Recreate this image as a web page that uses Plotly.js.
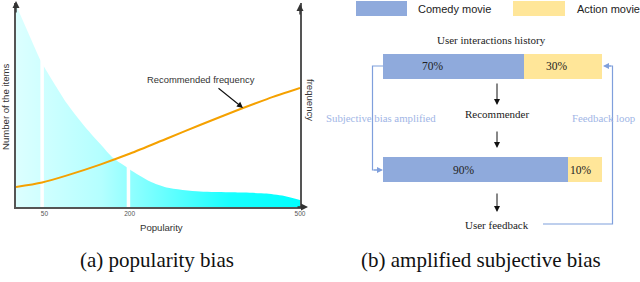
<!DOCTYPE html>
<html><head><meta charset="utf-8">
<script src="https://cdn.plot.ly/plotly-3.0.1.min.js"></script>
<style>html,body{margin:0;padding:0;background:#fff}#chart{width:640px;height:282px}</style>
</head><body><div id="chart"></div>
<script>
// ---- (a) popularity bias ----
const popularity = [0, 19, 43, 51, 89, 118, 148, 171, 195, 201, 236, 265, 324, 382, 441, 476, 500];
const itemCounts = [99, 87, 72, 68, 51, 40.5, 31, 24, 19.5, 18.3, 12.5, 9.6, 7.6, 7.2, 6.6, 5.2, 3.4];
const freqPopularity = [0, 46, 90, 148, 201, 266, 324, 394, 442, 500];
const recFrequency = [9.8, 12.0, 15.5, 20.8, 26.2, 33.6, 40.2, 47.9, 52.9, 58.3];
const gapPopularity = [46, 198];
const popTicks = [50, 200, 500];
const popTickLabels = ['50', '200', '500'];

// ---- (b) amplified subjective bias ----
const stages = ['User interactions history', 'Recommender output'];
const comedyShare = [70, 90];
const actionShare = [30, 10];
const comedyDrawn = [64.4, 84.5];   // bar lengths as drawn in the picture
const actionDrawn = [35.6, 15.5];
const genres = ['Comedy movie', 'Action movie'];

const BLUE = '#8faadc', YELLOW = '#ffe699', LOOP = '#7f9fdc', LOOPTXT = '#9fb6e6';
const X = px => px / 640, Y = py => 1 - py / 282;
const sans = 'Liberation Sans, Arial, sans-serif';
const serif = 'Liberation Serif, Times New Roman, serif';

function arrow(tx, ty, fx, fy, color, w, size) {
  return {xref:'paper', yref:'paper', x:X(tx), y:Y(ty), ax:fx - tx, ay:fy - ty,
          axref:'pixel', ayref:'pixel', text:'', showarrow:true, arrowhead:2,
          arrowsize:size, arrowwidth:w, arrowcolor:color};
}
function label(px, py, text, font, extra) {
  return Object.assign({xref:'paper', yref:'paper', x:X(px), y:Y(py), text:text,
          showarrow:false, xanchor:'center', yanchor:'middle', font:font}, extra || {});
}

const traces = [
  {x: popularity, y: itemCounts, xaxis:'x', yaxis:'y', type:'scatter', mode:'lines',
   line:{width:0, shape:'spline', smoothing:0.7}, fill:'tozeroy',
   fillgradient:{type:'horizontal', start:0, stop:500,
     colorscale:[[0,'#dcffff'],[0.3,'#b4ffff'],[0.5,'#70ffff'],[0.75,'#1affff'],[1,'#00ffff']]},
   hoverinfo:'skip'},
  {x: gapPopularity.flatMap(p => [p, p, null]), y: gapPopularity.flatMap(() => [0, 80, null]),
   xaxis:'x', yaxis:'y', type:'scatter', mode:'lines', line:{color:'#ffffff', width:3.5}, hoverinfo:'skip'},
  {x: freqPopularity, y: recFrequency, xaxis:'x', yaxis:'y', type:'scatter', mode:'lines',
   line:{color:'#f5a100', width:2, shape:'spline', smoothing:0.8}, hoverinfo:'skip'},
  {x: [0], y: [0], xaxis:'x', yaxis:'y3', type:'scatter', mode:'markers', marker:{opacity:0}, hoverinfo:'skip'},
  {type:'bar', orientation:'h', name: genres[0], x: comedyDrawn, y: stages, xaxis:'x2', yaxis:'y2',
   marker:{color: BLUE, line:{width:0}}, width:0.2415, hoverinfo:'skip'},
  {type:'bar', orientation:'h', name: genres[1], x: actionDrawn, y: stages, xaxis:'x2', yaxis:'y2',
   marker:{color: YELLOW, line:{width:0}}, width:0.2415, hoverinfo:'skip'}
];

const axisFont = {family: sans, size: 9.6, color: '#333'};
const barFont = {family: serif, size: 11.5, color: '#222'};
const flowFont = {family: serif, size: 11, color: '#222'};
const loopFont = {family: serif, size: 10.8, color: LOOPTXT};

const annotations = [
  // axis arrows
  arrow(16, 1, 16, 14, '#333', 1.4, 1),
  arrow(300, 4, 300, 16, '#333', 1.4, 1),
  arrow(308, 207, 296, 207, '#333', 1.4, 1),
  label(6, 107, 'Number of the items', axisFont, {textangle:-90}),
  label(311, 100, 'frequency', axisFont, {textangle:90}),
  label(161, 227, 'Popularity', axisFont),
  label(201, 79, 'Recommended frequency', {family: sans, size: 9.4, color:'#333'}),
  arrow(243, 108, 217, 87, '#111', 1.1, 1.1),
  // captions
  label(157, 260, '(a) popularity bias', {family: serif, size: 21, color:'#111'}),
  label(481, 260, '(b) amplified subjective bias', {family: serif, size: 21, color:'#111'}),
  // legend text
  label(416, 8.5, genres[0], {family: sans, size: 11, color:'#222'}, {xanchor:'left'}),
  label(575, 8.5, genres[1], {family: sans, size: 11, color:'#222'}, {xanchor:'left'}),
  // flow
  label(491, 40, 'User interactions history', flowFont),
  label(497, 114, 'Recommender', flowFont),
  label(497, 225, 'User feedback', flowFont),
  arrow(497, 105, 497, 82, '#111', 1, 1.2),
  arrow(497, 148, 497, 130, '#111', 1, 1.2),
  arrow(497, 212, 497, 192, '#111', 1, 1.2),
  // bar labels
  {xref:'x2', yref:'y2', x:22.8, y:stages[0], text: comedyShare[0] + '%', showarrow:false, font:barFont},
  {xref:'x2', yref:'y2', x:79.5, y:stages[0], text: actionShare[0] + '%', showarrow:false, font:barFont},
  {xref:'x2', yref:'y2', x:37, y:stages[1], text: comedyShare[1] + '%', showarrow:false, font:barFont},
  {xref:'x2', yref:'y2', x:90.4, y:stages[1], text: actionShare[1] + '%', showarrow:false, font:barFont},
  // loops
  label(381, 118, 'Subjective bias amplified', loopFont),
  label(603, 118, 'Feedback loop', loopFont),
  arrow(383, 170, 372.5, 170, LOOP, 1.2, 1),
  arrow(603, 66, 612.5, 66, LOOP, 1.2, 1)
];

const p = (px, py) => X(px) + ',' + Y(py);
const shapes = [
  {type:'rect', xref:'paper', yref:'paper', x0:X(356), x1:X(407), y0:Y(16), y1:Y(1), fillcolor:BLUE, line:{width:0}},
  {type:'rect', xref:'paper', yref:'paper', x0:X(513), x1:X(565), y0:Y(16), y1:Y(1), fillcolor:YELLOW, line:{width:0}},
  {type:'path', xref:'paper', yref:'paper', path:'M' + p(383, 66) + 'L' + p(372.5, 66) + 'L' + p(372.5, 170) + 'L' + p(378, 170),
   line:{color:LOOP, width:1.2}},
  {type:'path', xref:'paper', yref:'paper', path:'M' + p(543, 224) + 'L' + p(612.5, 224) + 'L' + p(612.5, 66) + 'L' + p(608, 66),
   line:{color:LOOP, width:1.2}}
];

const layout = {
  width:640, height:282, margin:{l:0, r:0, t:0, b:0},
  paper_bgcolor:'#fff', plot_bgcolor:'rgba(0,0,0,0)', showlegend:false, barmode:'stack',
  xaxis:{domain:[X(16), X(300)], range:[0, 500], anchor:'y', showline:true, linecolor:'#555', linewidth:1.6,
         tickvals: popTicks, ticktext: popTickLabels, ticks:'', showgrid:false, zeroline:false,
         tickfont:{family: sans, size:6.5, color:'#555'}},
  yaxis:{domain:[Y(207), Y(3)], range:[0, 100], anchor:'x', showline:true, linecolor:'#555', linewidth:1.6,
         showticklabels:false, ticks:'', showgrid:false, zeroline:false},
  yaxis3:{overlaying:'y', side:'right', anchor:'x', range:[0, 100], showline:true, linecolor:'#555', linewidth:1.6,
         showticklabels:false, ticks:'', showgrid:false, zeroline:false},
  xaxis2:{domain:[X(383), X(602)], range:[0, 100], anchor:'y2', visible:false},
  yaxis2:{domain:[Y(182), Y(53)], type:'category', range:[1.1208, -0.1256], anchor:'x2', visible:false},
  annotations: annotations, shapes: shapes
};

Plotly.newPlot('chart', traces, layout, {staticPlot:true, displayModeBar:false});
</script></body></html>
